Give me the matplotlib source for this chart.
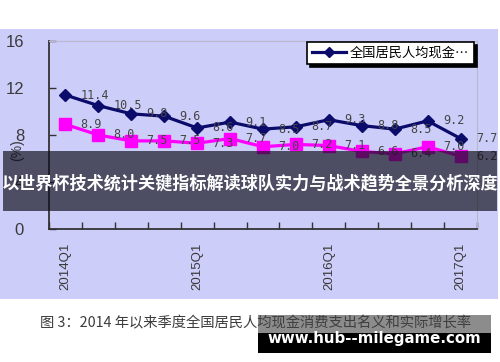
import matplotlib
matplotlib.use("Agg")
import matplotlib.pyplot as plt
from matplotlib.patches import Rectangle
from matplotlib.lines import Line2D

plt.rcParams['font.family'] = ['Liberation Sans', 'Noto Sans CJK SC', 'DejaVu Sans']

quarters = ["2014Q1", "2014Q2", "2014Q3", "2014Q4",
            "2015Q1", "2015Q2", "2015Q3", "2015Q4",
            "2016Q1", "2016Q2", "2016Q3", "2016Q4",
            "2017Q1"]
nominal = [11.4, 10.5, 9.8, 9.6, 8.6, 9.1, 8.5, 8.7, 9.3, 8.8, 8.5, 9.2, 7.7]
real = [8.9, 8.0, 7.5, 7.5, 7.3, 7.7, 7.0, 7.2, 7.1, 6.6, 6.4, 7.0, 6.2]
shown_ticks = ["2014Q1", "2015Q1", "2016Q1", "2017Q1"]
yticks = [0, 4, 8, 12, 16]
legend_label = "全国居民人均现金…"
overlay_title = "以世界杯技术统计关键指标解读球队实力与战术趋势全景分析深度"
caption = "图 3：2014 年以来季度全国居民人均现金消费支出名义和实际增长率"
watermark = "www.hub--milegame.com"

W, H = 500, 362
fig = plt.figure(figsize=(W / 100, H / 100), dpi=100)
fig.patch.set_facecolor("white")

lav = "#cdcdfa"
fig.patches.append(Rectangle((0, 1 - 299 / H), 498 / W, 270 / H,
                             transform=fig.transFigure, facecolor=lav,
                             edgecolor="none", zorder=-5))

ax = fig.add_axes([49 / W, 1 - 229 / H, 428 / W, 188 / H])
ax.set_facecolor("none")
ax.set_zorder(1)

x = list(range(len(quarters)))
navy = "#0b0b6b"
pink = "#ff00ff"
ax.plot(x, nominal, color=navy, lw=2.3, marker="D", ms=6, mec=navy, zorder=4)
ax.plot(x, real, color=pink, lw=2.3, marker="s", ms=9, mec=pink, zorder=3)

for xi, v in zip(x, nominal):
    ax.annotate(f"{v:.1f}", (xi, v), xytext=(11, 0), textcoords="offset points",
                ha="left", va="center", fontsize=8.5, color="#444444",
                family="DejaVu Sans Mono", zorder=6)
for xi, v in zip(x, real):
    ax.annotate(f"{v:.1f}", (xi, v), xytext=(11, 0), textcoords="offset points",
                ha="left", va="center", fontsize=8.5, color="#444444",
                family="DejaVu Sans Mono", zorder=6)

ax.set_xlim(-0.5, len(quarters) - 0.5)
ax.set_ylim(0, 16)
ax.set_yticks(yticks)
ax.set_yticklabels([str(t) for t in yticks], fontsize=12, color="#3a3a3a")
ax.tick_params(axis="y", direction="in", length=5, width=1, pad=18, colors="#333333")
ax.tick_params(axis="y", labelcolor="#3a3a3a")

pos = [quarters.index(q) for q in shown_ticks]
ax.set_xticks(pos)
ax.set_xticklabels(shown_ticks, rotation=90, fontsize=9.5, color="#3a3a3a")
ax.tick_params(axis="x", which="major", length=0, pad=10)
ax.set_xticks([i - 0.5 for i in range(len(quarters) + 1)], minor=True)
ax.tick_params(axis="x", which="minor", direction="in", length=5, width=1, color="#333333")

for s in ["left", "bottom"]:
    ax.spines[s].set_color("#333333")
    ax.spines[s].set_linewidth(1.3)
for s in ["top", "right"]:
    ax.spines[s].set_color("#b8b8c8")
    ax.spines[s].set_linewidth(0.8)

fig.text(17 / W, 1 - 150 / H, "(%)", rotation=90, ha="center", va="center",
         fontsize=10, color="#333333")

handle = Line2D([], [], color=navy, lw=2.3, marker="D", ms=5, mec=navy)
leg = ax.legend([handle], [legend_label], loc="upper right",
                bbox_to_anchor=(474 / W, 1 - 42 / H), bbox_transform=fig.transFigure,
                borderaxespad=0, fancybox=False, frameon=True,
                shadow={"color": "black", "alpha": 1},
                prop={"family": "Noto Sans CJK SC", "size": 9.5},
                handlelength=2.6, borderpad=0.35, handletextpad=0.3)
leg.get_frame().set_edgecolor("black")
leg.get_frame().set_linewidth(1.2)
leg.get_frame().set_facecolor("white")
leg.set_zorder(7)

# overlay band
fig.patches.append(Rectangle((3 / W, 1 - 211 / H), 494 / W, 60 / H,
                             transform=fig.transFigure, facecolor="#10101c",
                             alpha=0.68, edgecolor="none", zorder=10))
fig.text(250 / W, 1 - 183 / H, overlay_title, ha="center", va="center",
         fontsize=12.3, color="white", fontweight="bold",
         family=["Noto Sans CJK SC", "DejaVu Sans"], zorder=11)

# caption
fig.text(40 / W, 1 - 323 / H, caption, ha="left", va="center", fontsize=10.3,
         color="#3c3c3c", family=["Noto Sans CJK SC", "DejaVu Sans"], zorder=5)

# watermark box
fig.patches.append(Rectangle((258 / W, 1 - 333 / H), 233 / W, 18 / H,
                             transform=fig.transFigure, facecolor="#404040",
                             alpha=0.6, edgecolor="none", zorder=12))
fig.patches.append(Rectangle((258 / W, 1 - 353 / H), 233 / W, 20 / H,
                             transform=fig.transFigure, facecolor="black",
                             edgecolor="none", zorder=12))
fig.text(374 / W, 1 - 338 / H, watermark, ha="center", va="center",
         fontsize=10.8, color="white", fontweight="bold",
         family="DejaVu Sans", zorder=13)

fig.savefig("out.png", dpi=100)
